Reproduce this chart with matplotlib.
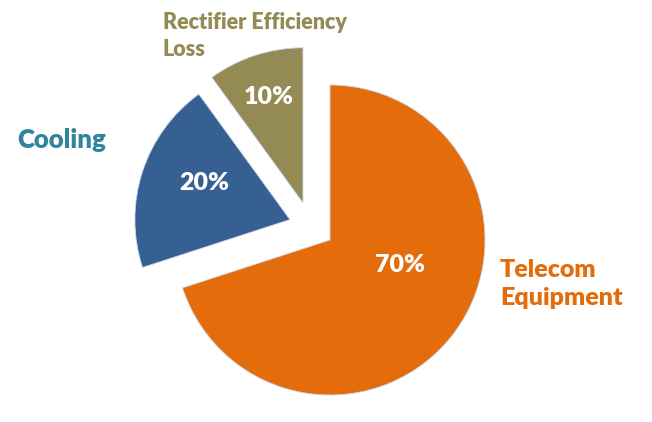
import numpy as np
import matplotlib
matplotlib.use('Agg')
import matplotlib.pyplot as plt

# data
labels = ['Telecom\nEquipment', 'Cooling', 'Rectifier Efficiency\nLoss']
shares = [70, 20, 10]
colors = ['#E46C0A', '#366092', '#948A54']
label_colors = ['#E46C0A', '#31849B', '#948A54']

plt.rcParams['font.family'] = ['Lato', 'DejaVu Sans']
plt.rcParams['font.weight'] = 'bold'

fig = plt.figure(figsize=(6.52, 4.22), dpi=100)
ax = fig.add_axes([0, 0, 1, 1])

cx, cy, R = 330, 182, 155
wedges, _ = ax.pie(shares, colors=colors, startangle=90, counterclock=False,
                   center=(cx, cy), radius=R, frame=True,
                   wedgeprops=dict(linewidth=0.6, edgecolor='#c9d6e8'))
ax.set_xlim(0, 652); ax.set_ylim(0, 422)
ax.set_aspect('equal')
ax.axis('off')

# explode the two small slices (direction deg, distance px)
shift = [(0, 0), (153, 45), (126, 46)]
# percent label placement inside each slice (radius fraction, angle deg)
pct_place = [(0.48, -20), (0.6, 157), (0.72, 108)]
for w, (ang, d), (rf, pa), v in zip(wedges, shift, pct_place, shares):
    dx, dy = d*np.cos(np.radians(ang)), d*np.sin(np.radians(ang))
    w.set_center((cx + dx, cy + dy))
    ax.text(cx + dx + rf*R*np.cos(np.radians(pa)), cy + dy + rf*R*np.sin(np.radians(pa)),
            f'{v}%', color='white', fontsize=18, fontweight='heavy',
            ha='center', va='center')

ax.text(500, 138, labels[0], color=label_colors[0], fontsize=18, fontweight='heavy',
        ha='left', va='center', linespacing=1.3)
ax.text(17, 282, labels[1], color=label_colors[1], fontsize=18.5, fontweight='heavy',
        ha='left', va='center')
ax.text(163, 386, labels[2], color=label_colors[2], fontsize=15.5, fontweight='heavy',
        ha='left', va='center', linespacing=1.4)

fig.savefig('out.png', dpi=100)
